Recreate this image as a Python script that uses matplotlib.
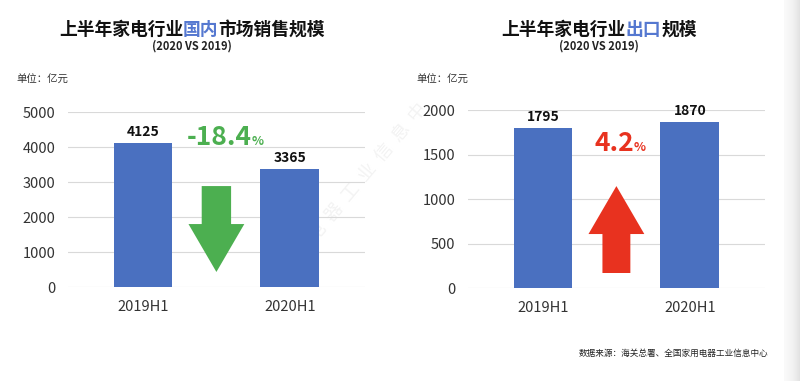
import numpy as np
import matplotlib
matplotlib.use("Agg")
import matplotlib.pyplot as plt

plt.rcParams["font.family"] = ["Noto Sans CJK SC", "DejaVu Sans"]

# ---- data ----
periods = ["2019H1", "2020H1"]
domestic = [4125, 3365]
export = [1795, 1870]
domestic_change = "-18.4"
export_change = "4.2"
domestic_ticks = [0, 1000, 2000, 3000, 4000, 5000]
export_ticks = [0, 500, 1000, 1500, 2000]

BLUE = "#4a70c0"
HILITE = "#5578d0"
GREEN = "#4caf50"
RED = "#e8321f"
GRID = "#d9d9d9"
TXT = "#333333"

fig = plt.figure(figsize=(8, 3.81), dpi=100)
fig.patch.set_facecolor("white")
renderer = fig.canvas.get_renderer()


def text_width(s, size):
    t = fig.text(0, 0, s, fontsize=size, fontweight="bold")
    w = t.get_window_extent(renderer).width / fig.bbox.width
    t.remove()
    return w


def colored_title(xc, y, parts, size):
    """centred title made of differently coloured pieces"""
    full = "".join(s for s, _ in parts)
    x0 = xc - text_width(full, size) / 2
    prefix = ""
    for s, c in parts:
        dx = text_width(prefix, size) if prefix else 0
        fig.text(x0 + dx, y, s, color=c, fontsize=size, fontweight="bold",
                 va="center", ha="left")
        prefix += s


def bar_panel(rect, values, ticks, title_parts, title_x):
    ax = fig.add_axes(rect)
    ax.set_facecolor("none")
    x = np.arange(len(periods))
    ax.bar(x, values, width=0.4, color=BLUE, zorder=3)
    for xi, v in zip(x, values):
        ax.annotate(f"{v}", (xi, v), xytext=(0, 3), textcoords="offset points",
                    ha="center", va="bottom", fontsize=10, fontweight="bold",
                    color="#111111")
    ax.set_xlim(-0.51, 1.51)
    ax.set_ylim(0, ticks[-1])
    ax.set_yticks(ticks)
    ax.set_xticks(x)
    ax.set_xticklabels(periods)
    ax.grid(axis="y", color=GRID, lw=0.8, zorder=0)
    for s in ax.spines.values():
        s.set_visible(False)
    ax.tick_params(axis="both", length=0, labelsize=10.5, colors=TXT)
    ax.tick_params(axis="y", pad=9)
    ax.tick_params(axis="x", pad=9)
    colored_title(title_x, 0.921, title_parts, 12.8)
    fig.text(title_x, 0.879, "(2020 VS 2019)", ha="center", va="center",
             fontsize=8, fontweight="bold", color="#222222")
    return ax


ax1 = bar_panel([0.085, 0.2467, 0.371, 0.459], domestic, domestic_ticks,
                [("上半年家电行业", "#111111"), ("国内", HILITE),
                 ("市场销售规模", "#111111")], 0.24)
ax2 = bar_panel([0.585, 0.244, 0.371, 0.467], export, export_ticks,
                [("上半年家电行业", "#111111"), ("出口", HILITE),
                 ("规模", "#111111")], 0.749)

fig.text(0.021, 0.79, "单位：亿元", fontsize=7.5, color=TXT, va="center")
fig.text(0.521, 0.79, "单位：亿元", fontsize=7.5, color=TXT, va="center")

# change arrows between the two bars
ax1.arrow(0.5, 2886, 0, -2456, width=0.2, head_width=0.38, head_length=1370,
          length_includes_head=True, color=GREEN, lw=0, zorder=4)
ax2.arrow(0.5, 169, 0, 977, width=0.19, head_width=0.38, head_length=539,
          length_includes_head=True, color=RED, lw=0, zorder=4)

ax1.text(0.74, 4060, domestic_change, ha="right", va="baseline", fontsize=19,
         fontweight="bold", color=GREEN, zorder=5)
ax1.text(0.74, 4060, "%", ha="left", va="baseline", fontsize=9,
         fontweight="bold", color=GREEN, zorder=5)
ax2.text(0.62, 1540, export_change, ha="right", va="baseline", fontsize=19,
         fontweight="bold", color=RED, zorder=5)
ax2.text(0.62, 1540, "%", ha="left", va="baseline", fontsize=9,
         fontweight="bold", color=RED, zorder=5)

# faint watermark
fig.text(0.45, 0.52, "康  电  器  工  业  信  息  中", rotation=50, fontsize=13,
         color="#f3f3f3", ha="center", va="center", zorder=-1)

fig.text(0.96, 0.073, "数据来源：海关总署、全国家用电器工业信息中心",
         ha="right", va="center", fontsize=6.2, color="#222222")

# light grey shading along the right edge
edge = fig.add_axes([0.98, 0, 0.02, 1])
edge.imshow(np.linspace(0, 1, 50).reshape(1, -1) ** 1.5, aspect="auto",
            cmap="Greys", vmin=-0.3, vmax=6, extent=[0, 1, 0, 1])
edge.axis("off")

fig.savefig("out.png", dpi=100, facecolor="white")
